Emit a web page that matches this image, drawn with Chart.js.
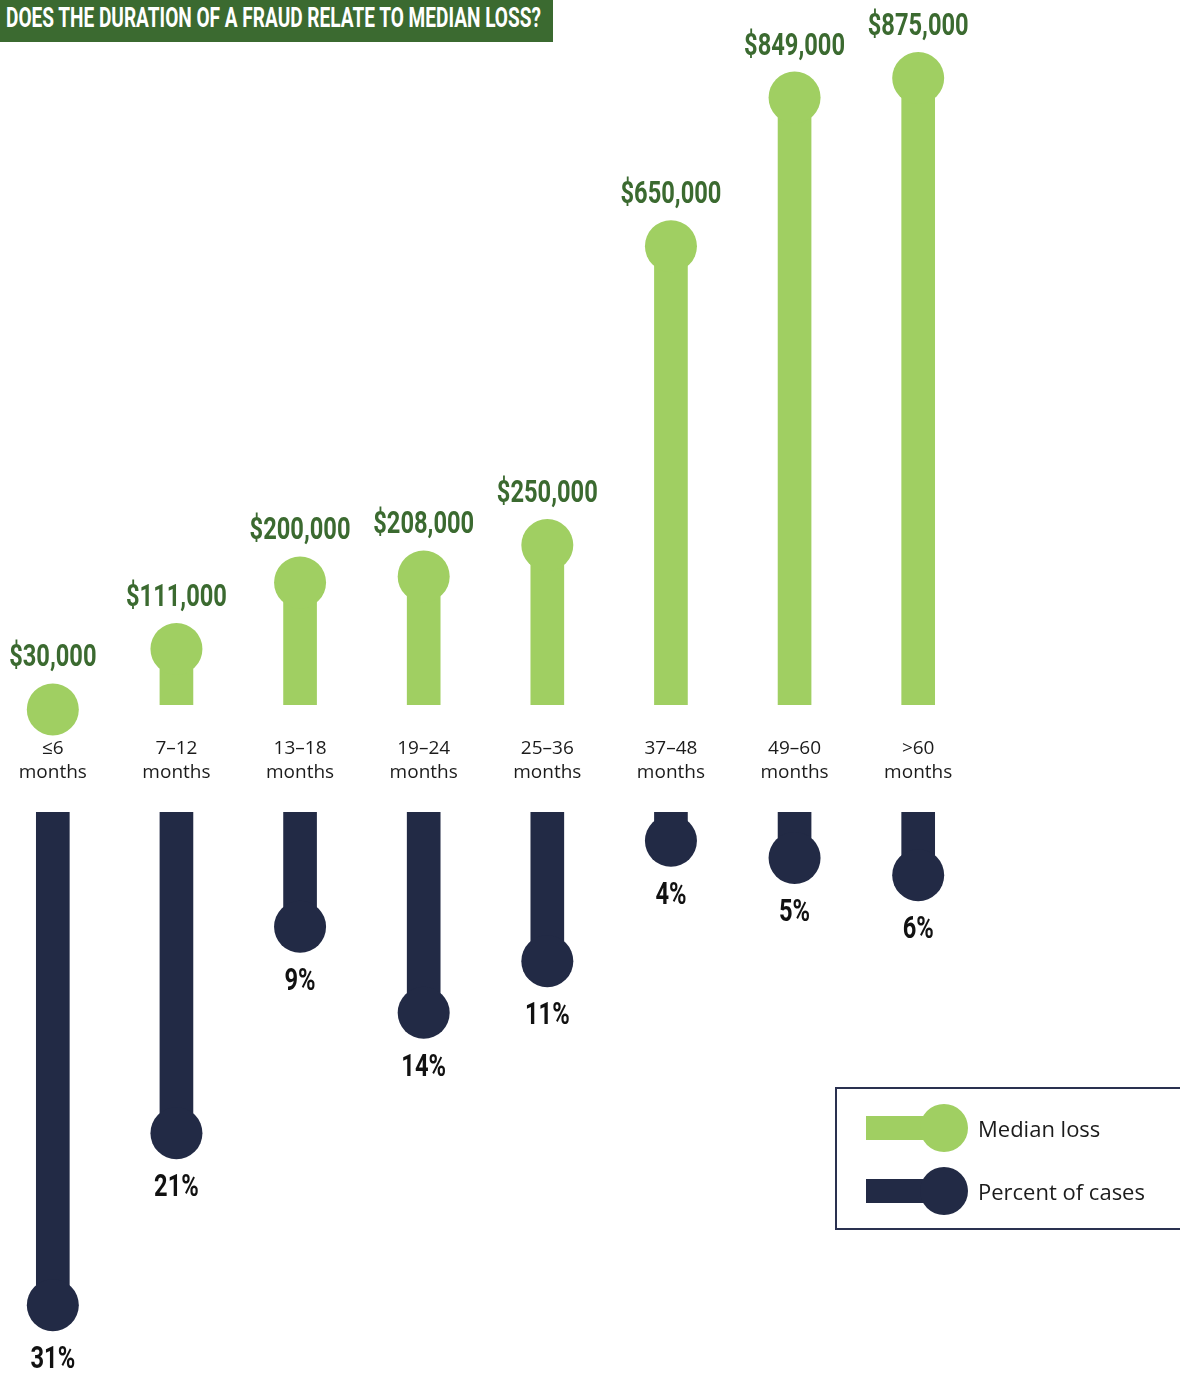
<!DOCTYPE html>
<html>
<head>
<meta charset="utf-8">
<script src="https://cdn.jsdelivr.net/npm/chart.js@4.4.0/dist/chart.umd.min.js"></script>
<style>
  html, body { margin: 0; padding: 0; background: #fff; }
  body { width: 1180px; height: 1375px; position: relative; overflow: hidden; font-family: 'Open Sans', sans-serif; }
  #title { position: absolute; left: 0; top: 0; width: 553px; height: 42px; background: #3b6a30; z-index: 2; overflow: hidden; }
  #title span { position: absolute; left: 6px; top: 1px; line-height: 42px; color: #fff; white-space: nowrap;
    font: bold 28px Roboto, sans-serif; transform-origin: 0 50%; }
  #loss { position: absolute; left: -9px; top: 0; }
  #cases { position: absolute; left: -9px; top: 812px; }
  #legend { position: absolute; left: 835px; top: 1087px; width: 360px; height: 143px; box-sizing: border-box; border: 2px solid #2a3150; }
  .bar { position: absolute; left: 866px; width: 70px; height: 24px; }
  .dot { position: absolute; left: 920px; width: 48px; height: 48px; border-radius: 50%; }
  .txt { position: absolute; left: 978px; font-size: 22px; color: #1b1b1b; line-height: 28px; }
</style>
</head>
<body>
<div id="title"><span>DOES THE DURATION OF A FRAUD RELATE TO MEDIAN LOSS?</span></div>
<canvas id="loss" width="989" height="800"></canvas>
<canvas id="cases" width="989" height="563"></canvas>

<div id="legend"></div>
<div class="bar" style="top:1116px;background:#a0cf62"></div>
<div class="dot" style="top:1104px;background:#a0cf62"></div>
<div class="txt" style="top:1114px">Median loss</div>
<div class="bar" style="top:1179px;background:#222a45"></div>
<div class="dot" style="top:1167px;background:#222a45"></div>
<div class="txt" style="top:1177px">Percent of cases</div>

<script>
// Data
const durations = [['≤6', 'months'], ['7–12', 'months'], ['13–18', 'months'], ['19–24', 'months'],
  ['25–36', 'months'], ['37–48', 'months'], ['49–60', 'months'], ['>60', 'months']];
const medianLoss = [30000, 111000, 200000, 208000, 250000, 650000, 849000, 875000];
const percentCases = [31, 21, 9, 14, 11, 4, 5, 6];

const green = '#a0cf62';
const navy = '#222a45';
const labelFont = "bold 32px Roboto, sans-serif";

// fit title text to banner width
const titleSpan = document.querySelector('#title span');
titleSpan.style.transform = `scaleX(${535 / titleSpan.offsetWidth})`;

// draws the value text above / below each lollipop head
const valueLabels = {
  id: 'valueLabels',
  afterDatasetsDraw(chart, args, opts) {
    const ctx = chart.ctx;
    const meta = chart.getDatasetMeta(0);
    const values = chart.data.datasets[0].data;
    ctx.save();
    ctx.font = labelFont;
    ctx.fillStyle = opts.color;
    ctx.textAlign = 'center';
    ctx.textBaseline = 'middle';
    meta.data.forEach((pt, i) => {
      ctx.save();
      ctx.translate(pt.x, pt.y + opts.offset);
      ctx.scale(0.74, 1);
      ctx.fillText(opts.format(values[i]), 0, 0);
      ctx.restore();
    });
    ctx.restore();
  }
};

function lollipopSets(values, color) {
  return [
    { type: 'line', data: values, showLine: false, pointRadius: 26, pointHoverRadius: 26,
      pointBackgroundColor: color, pointBorderWidth: 0, clip: false, order: 0 },
    { type: 'bar', data: values, backgroundColor: color, barThickness: 33, order: 1 }
  ];
}

// Median loss (upward)
new Chart(document.getElementById('loss'), {
  type: 'bar',
  data: { labels: durations, datasets: lollipopSets(medianLoss, green) },
  options: {
    responsive: false,
    animation: false,
    events: [],
    layout: { autoPadding: false, padding: { top: 60, bottom: 0, left: 0, right: 0 } },
    plugins: {
      legend: { display: false },
      tooltip: { enabled: false },
      valueLabels: { color: '#3b6a30', offset: -51, format: v => '$' + v.toLocaleString('en-US') }
    },
    scales: {
      x: {
        grid: { display: false, drawTicks: false },
        border: { display: false },
        ticks: { color: '#1b1b1b', padding: 32, autoSkip: false, maxRotation: 0,
          font: { family: 'Open Sans', size: 19, lineHeight: 1.25 } },
        afterFit(scale) {
          scale.height = 95;
          // keep the columns aligned with the lower chart
          scale.paddingLeft = 0;
          scale.paddingRight = 0;
        }
      },
      y: { display: false, min: 36000, max: 899200 }
    }
  },
  plugins: [valueLabels]
});

// Percent of cases (downward)
new Chart(document.getElementById('cases'), {
  type: 'bar',
  data: { labels: durations, datasets: lollipopSets(percentCases, navy) },
  options: {
    responsive: false,
    animation: false,
    events: [],
    layout: { autoPadding: false, padding: 0 },
    plugins: {
      legend: { display: false },
      tooltip: { enabled: false },
      valueLabels: { color: '#111111', offset: 55, format: v => v + '%' }
    },
    scales: {
      x: { display: false },
      y: { display: false, reverse: true, min: 2.326, max: 35.06 }
    }
  },
  plugins: [valueLabels]
});
</script>
</body>
</html>
